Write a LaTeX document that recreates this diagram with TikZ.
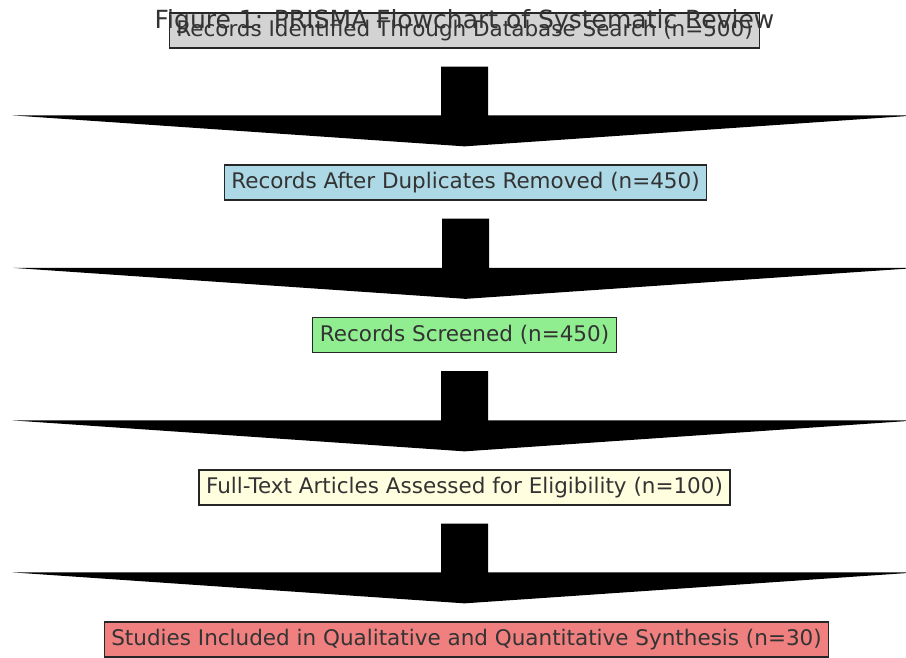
\documentclass[tikz,border=0pt]{standalone}
\usepackage{fontspec}
\setmainfont{DejaVu Sans}
\usetikzlibrary{calc}
\definecolor{cgray}{HTML}{D3D3D3}
\definecolor{cblue}{HTML}{ADD8E6}
\definecolor{cgreen}{HTML}{90EE90}
\definecolor{cyellow}{HTML}{FFFFE0}
\definecolor{ccoral}{HTML}{F08080}
\definecolor{txt}{HTML}{333333}
\tikzset{
  stagebox/.style={draw=black!85, line width=1.3pt, text=txt, inner xsep=7pt,
    minimum height=35pt, text height=16pt, text depth=3.5pt,
    font=\fontsize{21.5}{25}\selectfont},
  titletext/.style={text=txt, inner sep=0pt, font=\fontsize{25}{29}\selectfont},
}
\newcommand{\bigarrow}[2]{%
  \fill[black] let \p1=(#1.south), \p2=(#2.north) in
    (\x1-23.5pt,\y1-18pt) -- (\x1+23.5pt,\y1-18pt) -- (\x1+23.5pt,\y2+49pt)
    -- (\x1+452.5pt,\y2+49pt) -- (\x1,\y2+18pt) -- (\x1-452.5pt,\y2+49pt)
    -- (\x1-23.5pt,\y2+49pt) -- cycle;}
\begin{document}
\begin{tikzpicture}[x=1pt,y=1pt]
\useasboundingbox (0,0) rectangle (906,-657);
\clip (0,0) rectangle (906,-657);
\fill[white] (0,0) rectangle (906,-657);
\node[stagebox, fill=cgray]   (s1) at (464.5,-30.5) {Records Identified Through Database Search (n=500)};
\node[stagebox, fill=cblue]   (s2) at (465.5,-182.5) {Records After Duplicates Removed (n=450)};
\node[stagebox, fill=cgreen]  (s3) at (464.5,-335) {Records Screened (n=450)};
\node[stagebox, fill=cyellow] (s4) at (464.5,-487.5) {Full-Text Articles Assessed for Eligibility (n=100)};
\node[stagebox, fill=ccoral]  (s5) at (466.5,-639.5) {Studies Included in Qualitative and Quantitative Synthesis (n=30)};
\bigarrow{s1}{s2}
\bigarrow{s2}{s3}
\bigarrow{s3}{s4}
\bigarrow{s4}{s5}
\node[titletext, anchor=base] (title) at (464.5,-28) {Figure 1: PRISMA Flowchart of Systematic Review};
\end{tikzpicture}
\end{document}
